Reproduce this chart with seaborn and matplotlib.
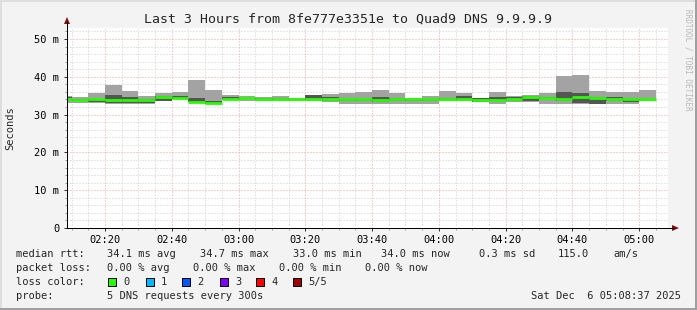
import numpy as np
import pandas as pd
import matplotlib
matplotlib.use("Agg")
import matplotlib.pyplot as plt
import seaborn as sns
from matplotlib.patches import Polygon, Rectangle
from matplotlib.lines import Line2D
from matplotlib.ticker import MultipleLocator

# ---------------- data ----------------
bin_start = ["02:05", "02:10", "02:15", "02:20", "02:25", "02:30", "02:35", "02:40",
             "02:45", "02:50", "02:55", "03:00", "03:05", "03:10", "03:15", "03:20",
             "03:25", "03:30", "03:35", "03:40", "03:45", "03:50", "03:55", "04:00",
             "04:05", "04:10", "04:15", "04:20", "04:25", "04:30", "04:35", "04:40",
             "04:45", "04:50", "04:55", "05:00"]
rtt_min = [33.0, 33.0, 33.0, 32.9, 32.9, 32.9, 33.5, 34.0, 33.2, 32.8, 33.9, 33.5,
           33.7, 33.7, 33.6, 33.7, 33.4, 32.8, 32.8, 32.8, 32.8, 32.8, 32.8, 33.7,
           33.6, 33.3, 32.8, 33.3, 33.4, 32.8, 32.8, 32.8, 32.8, 32.8, 32.8, 33.7]
rtt_q1 = [33.6, 33.7, 33.4, 33.0, 33.0, 33.0, 33.7, 34.2, 33.3, 32.9, 34.0, 34.0,
          33.8, 33.8, 33.8, 33.8, 33.6, 33.7, 33.7, 33.3, 33.7, 33.7, 33.7, 33.8,
          33.8, 33.4, 33.6, 33.7, 33.7, 34.0, 33.6, 33.0, 32.9, 33.7, 33.3, 33.8]
rtt_median = [34.0, 33.8, 34.0, 33.9, 33.9, 33.9, 34.6, 34.4, 33.4, 33.0, 34.2, 34.3,
              34.0, 34.0, 34.0, 34.0, 34.0, 34.0, 34.0, 33.8, 34.0, 34.0, 34.0, 34.0,
              34.0, 33.8, 33.8, 34.0, 34.6, 34.4, 34.0, 34.6, 34.4, 34.0, 34.0, 34.0]
rtt_q3 = [34.6, 34.0, 34.1, 35.2, 34.7, 34.0, 34.8, 34.9, 34.4, 33.6, 34.7, 34.5,
          34.5, 34.4, 34.2, 35.1, 34.7, 34.2, 34.2, 34.7, 34.4, 34.2, 34.2, 34.4,
          35.0, 34.4, 34.7, 34.6, 34.8, 34.7, 36.0, 35.8, 34.7, 34.7, 34.2, 34.2]
rtt_max = [35.0, 34.7, 35.8, 37.9, 36.3, 35.0, 35.8, 35.9, 39.2, 36.6, 35.2, 34.9,
           34.6, 35.0, 34.5, 35.2, 35.5, 35.8, 36.0, 36.5, 35.8, 34.4, 34.8, 36.2,
           35.8, 34.5, 36.0, 35.0, 35.3, 35.6, 40.3, 40.6, 36.2, 36.0, 36.0, 36.6]

x_tick_labels = ["02:20", "02:40", "03:00", "03:20", "03:40", "04:00", "04:20", "04:40", "05:00"]
y_tick_values = [0, 10, 20, 30, 40, 50]
y_tick_labels = ["0", "10 m", "20 m", "30 m", "40 m", "50 m"]
loss_labels = ["0", "1", "2", "3", "4", "5/5"]
loss_colors = ["#26ff00", "#00b8ff", "#0059ff", "#7e00ff", "#ff0000", "#a00000"]

title = "Last 3 Hours from 8fe777e3351e to Quad9 DNS 9.9.9.9"
stats_rtt = ["median rtt:", "34.1 ms avg", "34.7 ms max", "33.0 ms min",
             "34.0 ms now", "0.3 ms sd", "115.0", "am/s"]
stats_loss = ["packet loss:", "0.00 % avg", "0.00 % max", "0.00 % min", "0.00 % now"]

# ---------------- helpers ----------------
W, H = 697, 310
BIN = 5.0  # minutes per bin


def to_min(s):
    h, m = s.split(":")
    return (int(h) - 2) * 60 + int(m)


def fx(px):
    return px / W


def fy(py):
    return 1 - py / H


sns.set_style("white")
plt.rcParams["font.family"] = ["DejaVu Sans Mono", "DejaVu Sans"]
plt.rcParams["axes.linewidth"] = 0.72

fig = plt.figure(figsize=(W / 100, H / 100), dpi=100, facecolor="#f3f3f3")
ax = fig.add_axes([fx(67), 82 / H, 601 / W, 200 / H])
ax.set_facecolor("white")

starts = np.array([to_min(s) for s in bin_start], dtype=float)
lo = np.array(rtt_min)
q1 = np.array(rtt_q1)
q3 = np.array(rtt_q3)
hi = np.array(rtt_max)

# smoke: outer (min..max) and inner (q1..q3)
ax.bar(starts, hi - lo, bottom=lo, width=BIN, align="edge",
       color="#a3a3a3", linewidth=0, zorder=2)
ax.bar(starts, q3 - q1, bottom=q1, width=BIN, align="edge",
       color="#555555", linewidth=0, zorder=3)

# median per bin as separate horizontal segments (loss colour 0 = green)
seg = pd.DataFrame({
    "t": np.concatenate([starts, starts + BIN]),
    "rtt": np.concatenate([rtt_median, rtt_median]),
    "bin": np.concatenate([np.arange(len(starts)), np.arange(len(starts))]),
})
sns.lineplot(data=seg, x="t", y="rtt", units="bin", estimator=None,
             color=loss_colors[0], lw=2.0, ax=ax, legend=False,
             solid_capstyle="butt", zorder=4)

# axes ranges
ax.set_xlim(8.62, 188.62)
ax.set_ylim(0, 52.9)

ax.set_xticks([to_min(s) for s in x_tick_labels])
ax.set_xticklabels(x_tick_labels)
ax.xaxis.set_minor_locator(MultipleLocator(5))
ax.set_yticks(y_tick_values)
ax.set_yticklabels(y_tick_labels)
ax.yaxis.set_minor_locator(MultipleLocator(2))
ax.set_xlabel("")
ax.set_ylabel("")

ax.tick_params(axis="both", which="major", direction="out", length=2.5,
               width=0.72, color="#333333", labelsize=7.5, labelcolor="black")
ax.tick_params(axis="both", which="minor", direction="out", length=1.5,
               width=0.72, color="#999999")
ax.tick_params(axis="y", which="major", pad=3.0)
ax.tick_params(axis="x", which="major", pad=2.5)
ax.tick_params(axis="both", which="both", bottom=True, left=True, top=False, right=False)

ax.grid(which="minor", color="#cccccc", linestyle=(0, (1, 2)), lw=0.72, zorder=1)
ax.grid(which="major", color="#f0a0a0", linestyle=(0, (1, 2)), lw=0.72, zorder=1)
ax.set_axisbelow(True)

for side in ["top", "right"]:
    ax.spines[side].set_visible(False)
for side in ["left", "bottom"]:
    ax.spines[side].set_color("black")
    ax.spines[side].set_linewidth(0.72)
    ax.spines[side].set_zorder(6)

# axis extensions with arrows (rrdtool style)
fig.add_artist(Line2D([fx(67), fx(67)], [fy(228), fy(22)], color="black", lw=0.72))
fig.add_artist(Line2D([fx(67), fx(674)], [fy(228), fy(228)], color="black", lw=0.72))
fig.add_artist(Polygon([[fx(64), fy(24)], [fx(70), fy(24)], [fx(67), fy(17)]],
                       closed=True, color="#7f1010", lw=0))
fig.add_artist(Polygon([[fx(672), fy(225)], [fx(672), fy(231)], [fx(679), fy(228)]],
                       closed=True, color="#7f1010", lw=0))

# titles and labels
fig.text(fx(348), fy(19), title, ha="center", va="center", fontsize=9.5)
fig.text(fx(10), fy(128), "Seconds", ha="center", va="center", rotation=90, fontsize=7.5)
fig.text(fx(688), fy(60), "RRDTOOL / TOBI OETIKER", ha="center", va="center",
         rotation=270, fontsize=5.5, color="#b8b8b8")

# legend / statistics lines
rtt_x = [16, 107, 200, 293, 381, 479, 558, 613]
for s, x in zip(stats_rtt, rtt_x):
    fig.text(fx(x), fy(254), s, ha="left", va="center", fontsize=7.5)
loss_x = [16, 107, 193, 279, 365]
for s, x in zip(stats_loss, loss_x):
    fig.text(fx(x), fy(268), s, ha="left", va="center", fontsize=7.5)

fig.text(fx(16), fy(282), "loss color:", ha="left", va="center", fontsize=7.5)
box_x = [108, 146, 182, 220, 256, 293]
for lab, col, bx in zip(loss_labels, loss_colors, box_x):
    fig.add_artist(Rectangle((fx(bx), fy(286)), 8 / W, 8 / H, facecolor=col,
                             edgecolor="black", lw=0.72))
    fig.text(fx(bx + 15), fy(282), lab, ha="left", va="center", fontsize=7.5)

fig.text(fx(16), fy(296), "probe:", ha="left", va="center", fontsize=7.5)
fig.text(fx(107), fy(296), "5 DNS requests every 300s", ha="left", va="center", fontsize=7.5)
fig.text(fx(681), fy(296), "Sat Dec  6 05:08:37 2025", ha="right", va="center", fontsize=7.5)

# outer 3D frame
fig.add_artist(Rectangle((0, 0), 2 / W, 1, facecolor="#dedede", lw=0))
fig.add_artist(Rectangle((0, 1 - 2 / H), 1, 2 / H, facecolor="#dedede", lw=0))
fig.add_artist(Rectangle((1 - 2 / W, 0), 2 / W, 1, facecolor="#a0a0a0", lw=0))
fig.add_artist(Rectangle((0, 0), 1, 2 / H, facecolor="#a0a0a0", lw=0))

fig.savefig("out.png", dpi=100, facecolor=fig.get_facecolor())
